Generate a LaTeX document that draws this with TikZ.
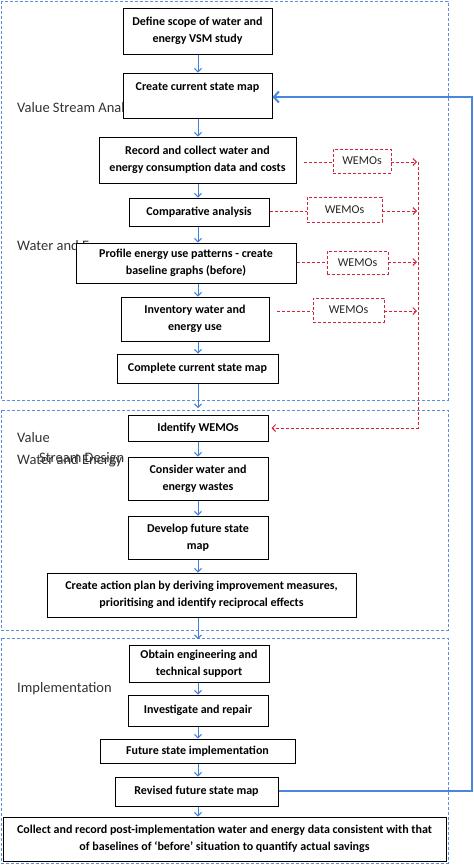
\documentclass[tikz,border=0pt]{standalone}
\usepackage{fontspec}
\setmainfont{Carlito}
\usetikzlibrary{arrows.meta}
\definecolor{regblue}{HTML}{5B8FD9}
\definecolor{arrblue}{HTML}{3F7FE0}
\definecolor{fbblue}{HTML}{4A86E0}
\definecolor{wred}{HTML}{D0243C}
\tikzset{
  flow/.style={draw=black, line width=1pt, fill=white, align=center, inner sep=0pt,
    font=\bfseries\fontsize{12}{17}\selectfont},
  wemo/.style={draw=wred, dashed, dash pattern=on 3pt off 2pt, line width=0.9pt, fill=white,
    inner sep=0pt, font=\fontsize{12}{14}\selectfont, text=black!85},
  region/.style={draw=regblue, line width=0.8pt, dash pattern=on 3pt off 2pt},
  phase/.style={anchor=base west, inner sep=0pt, font=\fontsize{14.5}{17}\selectfont, text=black!80},
  arr/.style={draw=arrblue, line width=0.9pt, -{Straight Barb[length=3.5pt,width=7pt]}},
  redarr/.style={draw=wred, line width=0.9pt, dash pattern=on 3pt off 2pt},
  redtip/.style={redarr, -{Straight Barb[length=3.5pt,width=7pt]}},
  fb/.style={draw=fbblue, line width=2pt}
}
\begin{document}
\begin{tikzpicture}[x=1pt,y=-1pt]
\useasboundingbox (0,0) rectangle (474,865);
% regions
\draw[region] (1,1) rectangle (448,400);
\draw[region] (1,410) rectangle (448,630);
\draw[region] (1,638) rectangle (448,863);
% phase labels (partly hidden behind boxes)
\node[phase] (lva) at (17,112) {Value Stream Analysis};
\node[phase] (lwe1) at (17,250) {Water and Energy};
\node[phase] (lv) at (17,442) {Value};
\node[phase] (lsd) at (39,462) {Stream Design};
\node[phase] (lwe2) at (17,464) {Water and Energy};
\node[phase] (limp) at (17,692) {Implementation};
% flow boxes
\node[flow, minimum width=149pt, minimum height=46pt] (b1) at (197.5,31) {Define scope of water and\\energy VSM study};
\node[flow, minimum width=149pt, minimum height=45pt] (b2) at (197.5,95.5) {Create current state map\\\mbox{}};
\node[flow, minimum width=197pt, minimum height=46pt] (b3) at (197.5,160) {Record and collect water and\\energy consumption data and costs};
\node[flow, minimum width=140pt, minimum height=28pt] (b4) at (199,212) {Comparative analysis};
\node[flow, minimum width=220pt, minimum height=40pt] (b5) at (186,263) {Profile energy use patterns - create\\baseline graphs (before)};
\node[flow, minimum width=148pt, minimum height=44pt] (b6) at (195,319) {Inventory water and\\energy use};
\node[flow, minimum width=161pt, minimum height=29pt] (b7) at (197.5,368.5) {Complete current state map};
\node[flow, minimum width=140pt, minimum height=26pt] (b8) at (198,428) {Identify WEMOs};
\node[flow, minimum width=140pt, minimum height=43pt] (b9) at (198,478.5) {Consider water and\\energy wastes};
\node[flow, minimum width=140pt, minimum height=43pt] (b10) at (198,537.5) {Develop future state\\map};
\node[flow, minimum width=309pt, minimum height=44pt] (b11) at (201.5,595) {Create action plan by deriving improvement measures,\\prioritising and identify reciprocal effects};
\node[flow, minimum width=140pt, minimum height=37pt] (b12) at (199,663.5) {Obtain engineering and\\technical support};
\node[flow, minimum width=140pt, minimum height=31pt] (b13) at (198,710.5) {Investigate and repair};
\node[flow, minimum width=195pt, minimum height=24pt] (b14) at (197.5,751) {Future state implementation};
\node[flow, minimum width=163pt, minimum height=29pt] (b15) at (196.5,791.5) {Revised future state map};
\node[flow, minimum width=443pt, minimum height=44pt] (b16) at (224.5,839) {Collect and record post-implementation water and energy data consistent with that\\of baselines of `before' situation to quantify actual savings};
% WEMOs boxes
\node[wemo, minimum width=58pt, minimum height=24pt] (w1) at (362,161) {WEMOs};
\node[wemo, minimum width=75pt, minimum height=25pt] (w2) at (344.5,209.5) {WEMOs};
\node[wemo, minimum width=61pt, minimum height=23pt] (w3) at (357.5,262.5) {WEMOs};
\node[wemo, minimum width=71pt, minimum height=24pt] (w4) at (348.5,310) {WEMOs};
% helper coordinates
\coordinate (ax) at (198,0);
\coordinate (r1end) at (198,408);
\coordinate (r2end) at (198,639);
\coordinate (s1) at (304,162);
\coordinate (s4) at (277,311);
\coordinate (e1) at (417,162);
\coordinate (e2) at (417,211);
\coordinate (e3) at (417,262);
\coordinate (e4) at (417,311);
\coordinate (vtop) at (418,162);
\coordinate (vbot) at (418,428);
\coordinate (fbr1) at (472,791);
\coordinate (fbr2) at (472,97);
% blue flow arrows
\draw[arr] (b1.south -| ax) -- (b2.north -| ax);
\draw[arr] (b2.south -| ax) -- (b3.north -| ax);
\draw[arr] (b3.south -| ax) -- (b4.north -| ax);
\draw[arr] (b4.south -| ax) -- (b5.north -| ax);
\draw[arr] (b5.south -| ax) -- (b6.north -| ax);
\draw[arr] (b6.south -| ax) -- (b7.north -| ax);
\draw[arr] (b7.south -| ax) -- (r1end);
\draw[arr] (b8.south -| ax) -- (b9.north -| ax);
\draw[arr] (b9.south -| ax) -- (b10.north -| ax);
\draw[arr] (b10.south -| ax) -- (b11.north -| ax);
\draw[arr] (b11.south -| ax) -- (r2end);
\draw[arr] (b12.south -| ax) -- (b13.north -| ax);
\draw[arr] (b13.south -| ax) -- (b14.north -| ax);
\draw[arr] (b14.south -| ax) -- (b15.north -| ax);
\draw[arr] (b15.south -| ax) -- (b16.north -| ax);
% red WEMO connectors
\draw[redarr] (s1) -- (w1.west |- s1);
\draw[redtip] (w1.east |- s1) -- (e1);
\draw[redarr] (b4.east |- e2) -- (w2.west |- e2);
\draw[redtip] (w2.east |- e2) -- (e2);
\draw[redarr] (b5.east |- e3) -- (w3.west |- e3);
\draw[redtip] (w3.east |- e3) -- (e3);
\draw[redarr] (s4) -- (w4.west |- s4);
\draw[redtip] (w4.east |- s4) -- (e4);
\draw[redtip] (vtop) -- (vbot) -- ([xshift=3pt]b8.east |- vbot);
% feedback loop
\draw[fb, -{Straight Barb[length=5pt,width=11pt]}] (b15.east |- fbr1) -- (fbr1) -- (fbr2) -- (b2.east |- fbr2);
\end{tikzpicture}
\end{document}
